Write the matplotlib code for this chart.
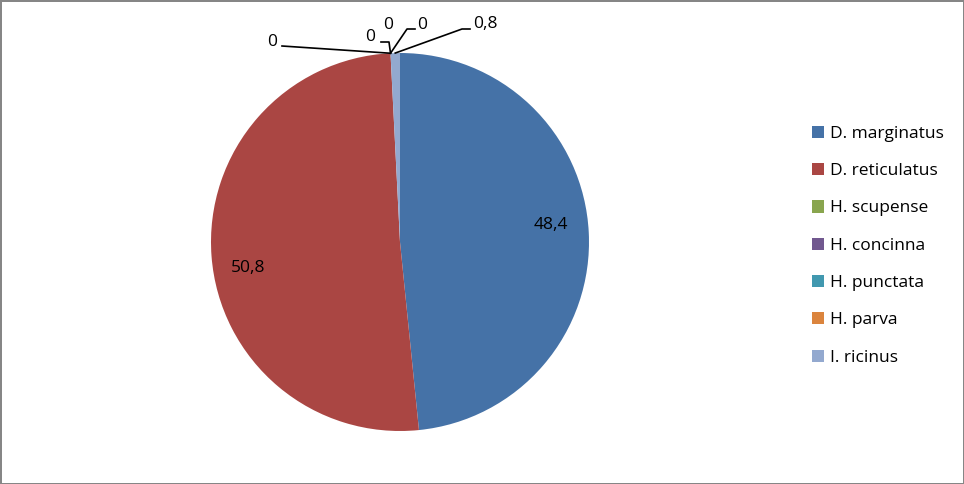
import numpy as np
import matplotlib.pyplot as plt

# data
species = ['D. marginatus', 'D. reticulatus', 'H. scupense', 'H. concinna',
           'H. punctata', 'H. parva', 'I. ricinus']
values = [48.4, 50.8, 0, 0, 0, 0, 0.8]
colors = ['#4572A7', '#AA4643', '#89A54E', '#71588F', '#4198AF', '#DB843D', '#93A9CF']

plt.rcParams['font.family'] = ['Open Sans', 'DejaVu Sans']
FS = 12.5

W, H = 964, 484
fig = plt.figure(figsize=(W / 100, H / 100), dpi=100)
fig.patch.set_edgecolor('#868686')
fig.patch.set_linewidth(2)

# pie geometry in pixels
cx, cy, R = 400, 242, 189
ax = fig.add_axes([(cx - R) / W, (H - cy - R) / H, 2 * R / W, 2 * R / H])


def px(x, y):
    # pixel (from top-left) -> data coords of pie axes
    return (x - cx) / R, (cy - y) / R


def fmt(v):
    return ('%g' % v).replace('.', ',')


wedges, _ = ax.pie(values, colors=colors, startangle=90, counterclock=False,
                   radius=1, wedgeprops=dict(linewidth=0))
ax.set_xlim(-1, 1)
ax.set_ylim(-1, 1)
ax.set_aspect('equal')
ax.axis('off')

# label placement in px, and leader bend points in px (small slices)
label_pos = {
    0: ((551, 225), None),
    1: ((248, 268), None),
    2: ((272, 42), [(282, 46)]),
    3: ((370, 37), [(381, 42), (389, 42)]),
    4: ((388, 25), []),
    5: ((422, 25), [(415, 29), (407, 29)]),
    6: ((485, 24), [(470, 29), (462, 29)]),
}
for i, w in enumerate(wedges):
    mid = np.deg2rad((w.theta1 + w.theta2) / 2)
    (lx, ly), pts = label_pos[i]
    ax.text(*px(lx, ly), fmt(values[i]), ha='center', va='center', fontsize=FS)
    if pts:
        xs = [px(*p)[0] for p in pts] + [np.cos(mid)]
        ys = [px(*p)[1] for p in pts] + [np.sin(mid)]
        ax.plot(xs, ys, color='black', linewidth=1.2, clip_on=False)

fig.legend(wedges, species, loc='upper left', bbox_to_anchor=(803 / W, 1 - 117 / H),
           frameon=False, fontsize=FS, handlelength=0.7, handleheight=0.7,
           handletextpad=0.35, labelspacing=1.22, borderpad=0)

plt.savefig('out.png', dpi=100)
